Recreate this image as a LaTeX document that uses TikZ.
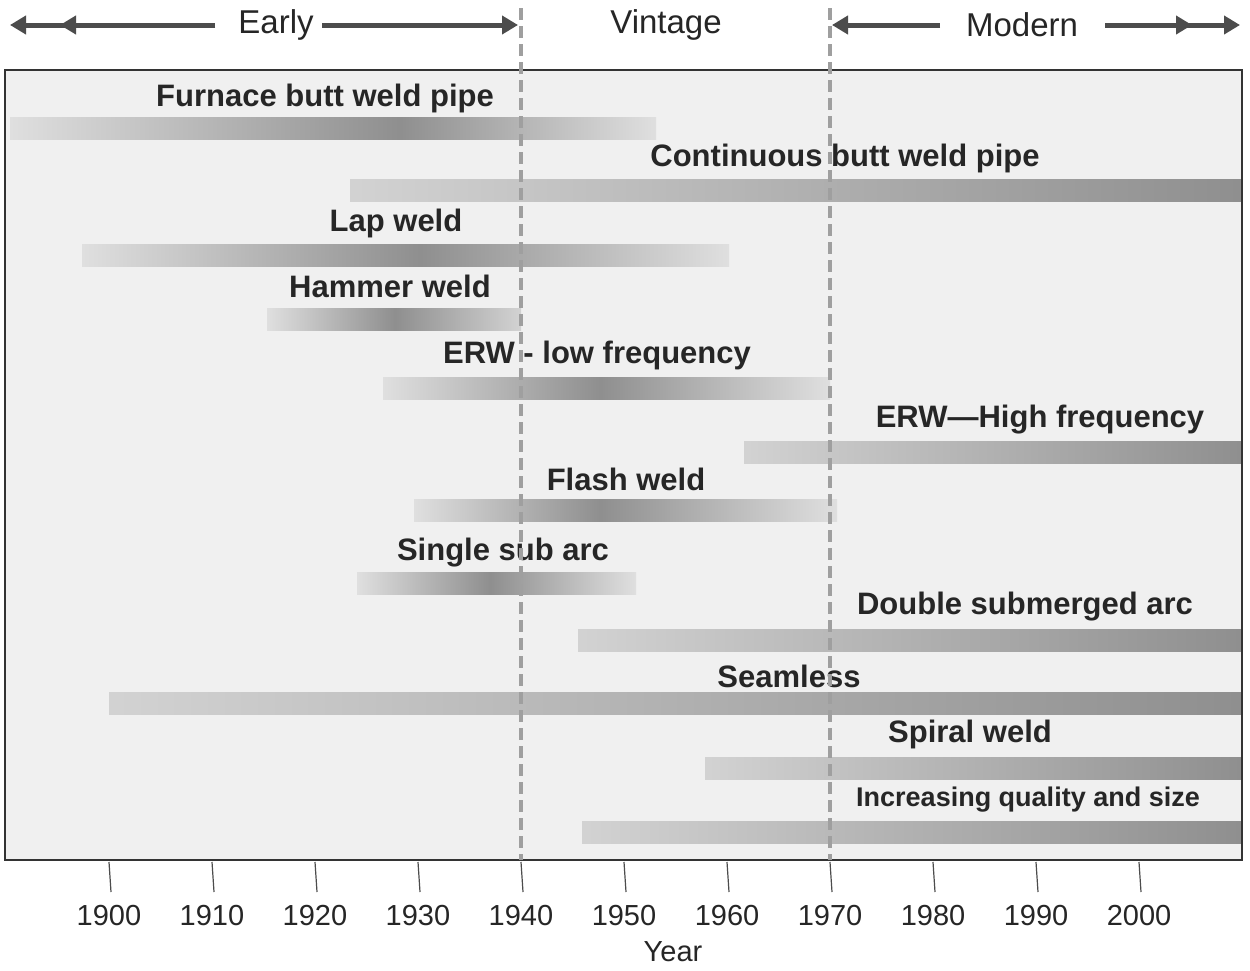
\documentclass[tikz,border=0pt]{standalone}
\usepackage{fontspec}
\setmainfont{Liberation Sans}
\usetikzlibrary{arrows.meta}
\newcommand\tbar[6]{%
  \shade[left color=#5,right color=gray!88] (#2,#1-11) rectangle (#3,#1+11);
  \shade[left color=gray!88,right color=#6] (#3,#1-11) rectangle (#4,#1+11);
}
\tikzset{lab/.style={font=\bfseries\fontsize{31}{31}\selectfont,text=black!85},
 ax/.style={font=\fontsize{29}{29}\selectfont,text=black!85},
 hdr/.style={font=\fontsize{33}{33}\selectfont,text=black!85},
 harr/.style={line width=5pt,draw=black!70,-{Triangle[length=16pt,width=18pt]}},
 dsh/.style={line width=4.5pt,draw=gray!75,dash pattern=on 12pt off 6pt}}
\begin{document}
\begin{tikzpicture}[x=1pt,y=-1pt]
\useasboundingbox (0,0) rectangle (1250,970);
\fill[white] (0,0) rectangle (1250,970);
\fill[gray!12] (5,70) rectangle (1242,860);
% bars
\tbar{128}{10}{400}{656}{gray!25}{gray!25}
\tbar{190}{350}{1242}{1242}{gray!35}{gray!88}
\tbar{255}{82}{420}{729}{gray!25}{gray!25}
\tbar{319}{267}{395}{521}{gray!25}{gray!35}
\tbar{388}{383}{600}{830}{gray!25}{gray!25}
\tbar{452}{744}{1242}{1242}{gray!35}{gray!88}
\tbar{510}{414}{600}{837}{gray!25}{gray!25}
\tbar{583}{357}{490}{636}{gray!25}{gray!25}
\tbar{640}{578}{1242}{1242}{gray!35}{gray!88}
\tbar{703}{109}{1242}{1242}{gray!35}{gray!88}
\tbar{768}{705}{1242}{1242}{gray!35}{gray!88}
\tbar{832}{582}{1242}{1242}{gray!35}{gray!88}
\draw[line width=1.5pt,black!80] (5,70) rectangle (1242,860);
% labels
\node[lab] (l1) at (325,98) {Furnace butt weld pipe};
\node[lab] (l2) at (845,158) {Continuous butt weld pipe};
\node[lab] (l3) at (396,223) {Lap weld};
\node[lab] (l4) at (390,286) {Hammer weld};
\node[lab] (l5) at (597,355) {ERW - low frequency};
\node[lab] (l6) at (1040,420) {ERW---High frequency};
\node[lab] (l7) at (626,479) {Flash weld};
\node[lab] (l8) at (503,553) {Single sub arc};
\node[lab] (l9) at (1025,607) {Double submerged arc};
\node[lab] (l10) at (789,676) {Seamless};
\node[lab] (l11) at (970,734) {Spiral weld};
\node[lab,font=\bfseries\fontsize{27}{27}\selectfont] (l12) at (1028,800) {Increasing quality and size};
% dashed
\draw[dsh] (521,8) -- (521,860);
\draw[dsh] (830,8) -- (830,860);
% ticks
\foreach \i [count=\k from 0] in {1900,1910,...,2000}{
  \draw[line width=1.2pt,black!70] (109+103*\k,862) -- (111+103*\k,892);
  \node[ax] (t\k) at (109+103*\k,916) {\i};
}
\node[ax] (yr) at (673,952) {Year};
% header
\node[hdr] (early) at (276,25) {Early};
\node[hdr] (vint) at (666,25) {Vintage};
\node[hdr] (mod) at (1022,25) {Modern};
\draw[harr] (215,25) -- (10,25);
\draw[harr] (215,25) -- (60,25);
\draw[harr] (322,25) -- (518,25);
\draw[harr] (940,25) -- (832,25);
\draw[harr] (1105,25) -- (1240,25);
\draw[harr] (1105,25) -- (1192,25);
\end{tikzpicture}
\end{document}
